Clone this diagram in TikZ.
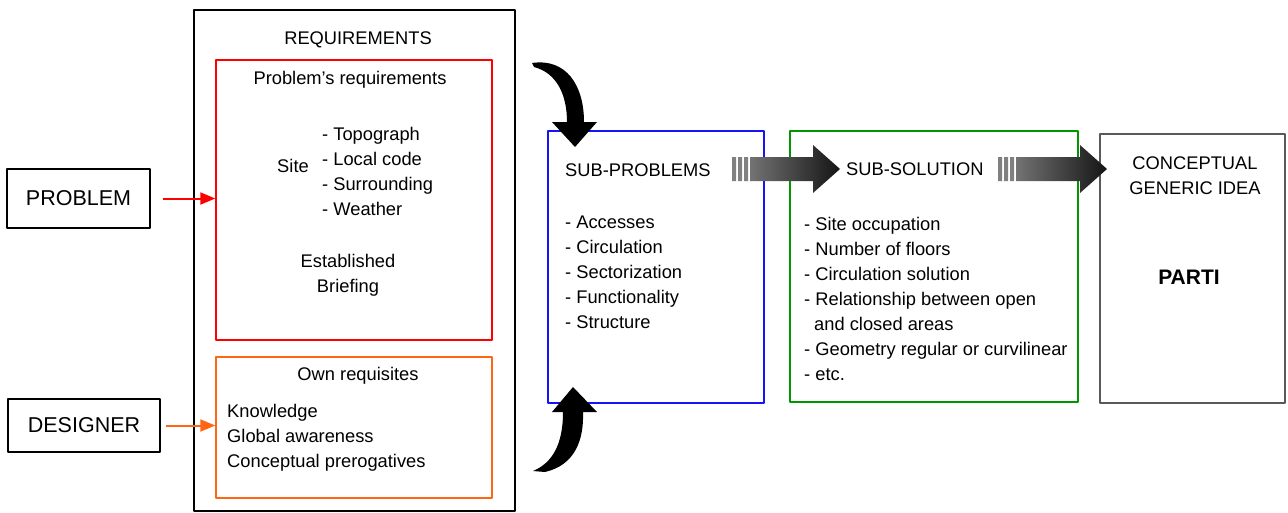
\documentclass[tikz,border=0pt]{standalone}
\usepackage{fontspec}
\setmainfont{Liberation Sans}
\usetikzlibrary{arrows.meta}
\definecolor{cam}{RGB}{255,102,20}
\definecolor{xanh}{RGB}{20,20,245}
\definecolor{luc}{RGB}{0,150,0}
\tikzset{
	hop/.style={draw,line width=1.4pt,inner sep=0pt},
	chu/.style={font=\fontsize{18.3}{25}\selectfont,inner sep=0pt},
	muiten/.style={line width=2pt,-{Triangle[length=15pt,width=12pt]}},
}
% mui ten to co vach
\newcommand{\fatarrow}[2]{%
	\fill[black!50] (#1,157) rectangle ++(4,24) (#1+6,157) rectangle ++(4,24) (#1+12,157) rectangle ++(4,24);
	\shade[left color=black!55,right color=black!92] (#1+18,157)--(#2-27,157)--(#2-27,145)--(#2,169)--(#2-27,193)--(#2-27,181)--(#1+18,181)--cycle;
}
\begin{document}
\begin{tikzpicture}[x=1pt,y=-1pt,line join=round]
		\useasboundingbox (0,0) rectangle (1288,512);
		% khung
		\node[hop,minimum width=143pt,minimum height=59pt] (problem) at (78.5,198.5) {\fontsize{21.5}{25}\selectfont PROBLEM};
		\node[hop,minimum width=152pt,minimum height=53pt] (designer) at (84,425.5) {\fontsize{21.5}{25}\selectfont DESIGNER};
		\node[hop,minimum width=321pt,minimum height=501pt] (req) at (354.5,260.5) {};
		\node[hop,draw=red,minimum width=276pt,minimum height=280pt] (probreq) at (354,200) {};
		\node[hop,draw=cam,minimum width=276pt,minimum height=141pt] (own) at (354,427.5) {};
		\node[hop,draw=xanh,minimum width=216pt,minimum height=272pt] (subprob) at (656,267) {};
		\node[hop,draw=luc,minimum width=288pt,minimum height=271pt] (subsol) at (934,266.5) {};
		\node[hop,draw=black!65,minimum width=185pt,minimum height=269pt] (idea) at (1192.5,268.5) {};
		
		% chu
		\node[chu] (reqt) at (358,40) {REQUIREMENTS};
		\node[chu] (probt) at (350,80) {Problem’s requirements};
		\node[chu] (site) at (293,166) {Site};
		\node[chu,anchor=west,align=left] (sitel) at (322,171) {- Topograph\\- Local code\\- Surrounding\\- Weather};
		\node[chu,align=center] (brief) at (348,275) {Established\\Briefing};
		\node[chu] (ownt) at (358,376) {Own requisites};
		\node[chu,anchor=west,align=left] (ownl) at (227,438) {Knowledge\\Global awareness\\Conceptual prerogatives};
		\node[chu,anchor=west] (subprobt) at (565,170) {SUB-PROBLEMS};
		\node[chu,anchor=west,align=left] (subprobl) at (565,272) {- Accesses\\- Circulation\\- Sectorization\\- Functionality\\- Structure};
		\node[chu,anchor=west] (subsolt) at (846,169) {SUB-SOLUTION};
		\node[chu,anchor=west,align=left] (subsoll) at (804,299) {- Site occupation\\- Number of floors\\- Circulation solution\\- Relationship between open\\\hspace*{10pt}and closed areas\\- Geometry regular or curvilinear\\- etc.};
		\node[chu,align=center] (ideat) at (1195,176) {CONCEPTUAL\\GENERIC IDEA};
		\node[chu,font=\fontsize{21}{25}\selectfont\bfseries] (parti) at (1189,277) {PARTI};
		
		% mui ten
		\draw[muiten,red,shorten <=12pt] (problem.east) -- (problem.east -| probreq.west);
		\draw[muiten,cam,shorten <=5pt] (designer.east) -- (designer.east -| own.west);
		\fatarrow{732}{840}
		\fatarrow{998}{1107}
		\fill (532,63) .. controls (566,58) and (584,85) .. (584,122) -- (597,122) -- (575,147) -- (552,122) -- (567,122) .. controls (567,95) and (557,73) .. (534,67) -- cycle;
		\fill (563,412) .. controls (563,445) and (552,463) .. (533,471) -- (545,472) .. controls (575,465) and (584,440) .. (583,412) -- (597,412) -- (573,387) -- (552,412) -- cycle;
\end{tikzpicture}
\end{document}
